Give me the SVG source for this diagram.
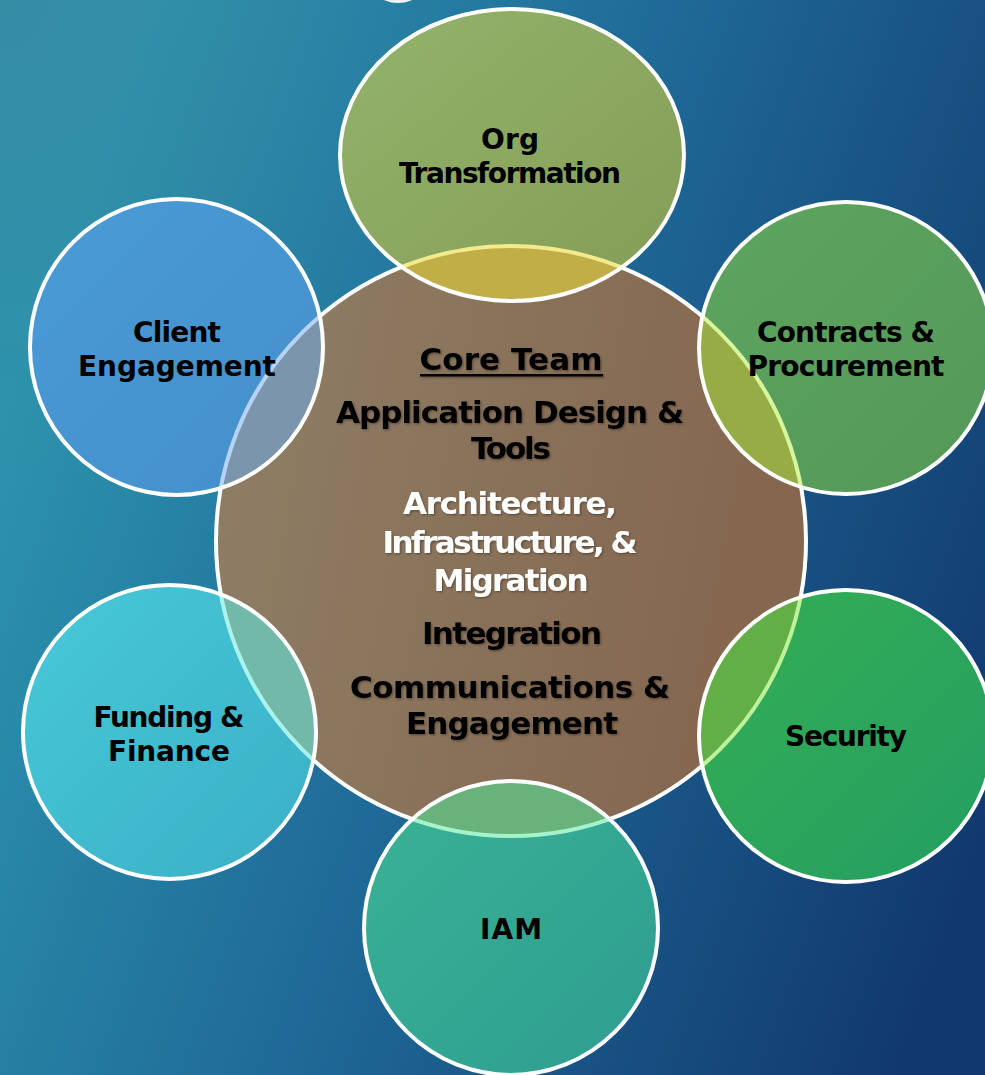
<svg xmlns="http://www.w3.org/2000/svg" width="985" height="1075" viewBox="0 0 985 1075">
<defs>
<linearGradient id="bg" x1="0" y1="0.4" x2="1" y2="0.8">
<stop offset="0" stop-color="#2c93ad"/>
<stop offset="0.45" stop-color="#1f6a98"/>
<stop offset="1" stop-color="#11386e"/>
</linearGradient>
<radialGradient id="bgTL" cx="0" cy="0" r="0.45">
<stop offset="0" stop-color="#4a7e90" stop-opacity="0.3"/>
<stop offset="1" stop-color="#4a7e90" stop-opacity="0"/>
</radialGradient>
<linearGradient id="gCore" x1="0" y1="0" x2="1" y2="0.2">
<stop offset="0" stop-color="#8e7f66"/>
<stop offset="1" stop-color="#85664f"/>
</linearGradient>
<linearGradient id="gOrg" x1="0" y1="0" x2="1" y2="1">
<stop offset="0" stop-color="#93b36b"/>
<stop offset="1" stop-color="#849c56"/>
</linearGradient>
<linearGradient id="gClient" x1="0" y1="0" x2="1" y2="1">
<stop offset="0" stop-color="#4a9bd6"/>
<stop offset="1" stop-color="#448fca"/>
</linearGradient>
<linearGradient id="gContracts" x1="0" y1="0" x2="1" y2="1">
<stop offset="0" stop-color="#5ea55e"/>
<stop offset="1" stop-color="#549859"/>
</linearGradient>
<linearGradient id="gSecurity" x1="0" y1="0" x2="1" y2="1">
<stop offset="0" stop-color="#35ae54"/>
<stop offset="1" stop-color="#249e62"/>
</linearGradient>
<linearGradient id="gFunding" x1="0" y1="0" x2="1" y2="1">
<stop offset="0" stop-color="#47c9d8"/>
<stop offset="1" stop-color="#3aafc6"/>
</linearGradient>
<linearGradient id="gIAM" x1="0" y1="0" x2="1" y2="1">
<stop offset="0" stop-color="#3ab296"/>
<stop offset="1" stop-color="#2e9d90"/>
</linearGradient>
<clipPath id="cCore"><circle cx="511" cy="541" r="295"/></clipPath>
<clipPath id="cOrg"><ellipse cx="512" cy="155" rx="172" ry="146"/></clipPath>
<clipPath id="cClient"><ellipse cx="176.5" cy="347" rx="146.5" ry="148"/></clipPath>
<clipPath id="cContracts"><ellipse cx="846" cy="348" rx="147" ry="146"/></clipPath>
<clipPath id="cSecurity"><ellipse cx="846" cy="736" rx="147" ry="146"/></clipPath>
<clipPath id="cFunding"><ellipse cx="169.5" cy="732" rx="146.5" ry="147"/></clipPath>
<clipPath id="cIAM"><ellipse cx="511" cy="928" rx="147" ry="147"/></clipPath>
<filter id="sh" x="-10%" y="-10%" width="120%" height="130%">
<feDropShadow dx="1.2" dy="1.2" stdDeviation="0.8" flood-color="#000" flood-opacity="0.35"/>
</filter>
</defs>
<style>
.ring{fill:none;stroke:#fff;stroke-width:4}
.edge{fill:none;stroke-width:4}
.t{font-family:"DejaVu Sans","Liberation Sans",sans-serif;font-weight:bold;text-anchor:middle;fill:#000}
.s{font-size:28px}
.c{font-size:31px}
.w{fill:#fff}
</style>
<rect x="0" y="0" width="985" height="1075" fill="url(#bg)"/>
<rect x="0" y="0" width="985" height="1075" fill="url(#bgTL)"/>
<circle cx="398" cy="-31" r="34" fill="#eef2f4"/>

<g id="connectors"></g>

<g id="core">
<circle cx="511" cy="541" r="295" fill="url(#gCore)" stroke="#fff" stroke-width="4"/>
<g filter="url(#sh)">
<text class="t" x="511" y="370" font-size="31" textLength="183" lengthAdjust="spacing">Core Team</text>
<rect x="420" y="374" width="183" height="2.5" fill="#000"/>
<text class="t c" x="510" y="423" textLength="348" lengthAdjust="spacing">Application Design &amp;</text>
<text class="t c" x="511" y="459" textLength="80" lengthAdjust="spacing">Tools</text>
<text class="t c w" x="510" y="514" textLength="214" lengthAdjust="spacing">Architecture,</text>
<text class="t c w" x="510" y="553" textLength="255" lengthAdjust="spacing">Infrastructure, &amp;</text>
<text class="t c w" x="511" y="591" textLength="155" lengthAdjust="spacing">Migration</text>
<text class="t c" x="512" y="644" textLength="180" lengthAdjust="spacing">Integration</text>
<text class="t c" x="510" y="698" textLength="320" lengthAdjust="spacing">Communications &amp;</text>
<text class="t c" x="512" y="734" textLength="212" lengthAdjust="spacing">Engagement</text>
</g>
</g>

<g id="org">
<ellipse cx="512" cy="155" rx="172" ry="146" fill="url(#gOrg)"/>
<ellipse cx="512" cy="155" rx="172" ry="146" fill="#c2ae46" clip-path="url(#cCore)"/>
<circle cx="511" cy="541" r="295" class="edge" stroke="#f2ea8c" clip-path="url(#cOrg)"/>
<ellipse cx="512" cy="155" rx="172" ry="146" class="ring"/>
<text class="t s" x="510" y="149" textLength="58" lengthAdjust="spacing">Org</text>
<text class="t s" x="510" y="183" textLength="222" lengthAdjust="spacing">Transformation</text>
</g>

<g id="client">
<ellipse cx="176.5" cy="347" rx="146.5" ry="148" fill="url(#gClient)"/>
<ellipse cx="176.5" cy="347" rx="146.5" ry="148" fill="#7b95ad" clip-path="url(#cCore)"/>
<circle cx="511" cy="541" r="295" class="edge" stroke="#b6d3f6" clip-path="url(#cClient)"/>
<ellipse cx="176.5" cy="347" rx="146.5" ry="148" class="ring"/>
<text class="t s" x="177" y="342" textLength="88" lengthAdjust="spacing">Client</text>
<text class="t s" x="177" y="376" textLength="198" lengthAdjust="spacing">Engagement</text>
</g>

<g id="contracts">
<ellipse cx="846" cy="348" rx="147" ry="146" fill="url(#gContracts)"/>
<ellipse cx="846" cy="348" rx="147" ry="146" fill="#96ad45" clip-path="url(#cCore)"/>
<circle cx="511" cy="541" r="295" class="edge" stroke="#d6f59c" clip-path="url(#cContracts)"/>
<ellipse cx="846" cy="348" rx="147" ry="146" class="ring"/>
<text class="t s" x="846" y="342" textLength="178" lengthAdjust="spacing">Contracts &amp;</text>
<text class="t s" x="846" y="376" textLength="197" lengthAdjust="spacing">Procurement</text>
</g>

<g id="security">
<ellipse cx="846" cy="736" rx="147" ry="146" fill="url(#gSecurity)"/>
<ellipse cx="846" cy="736" rx="147" ry="146" fill="#62af48" clip-path="url(#cCore)"/>
<circle cx="511" cy="541" r="295" class="edge" stroke="#bdf29a" clip-path="url(#cSecurity)"/>
<ellipse cx="846" cy="736" rx="147" ry="146" class="ring"/>
<text class="t s" x="846" y="746" textLength="122" lengthAdjust="spacing">Security</text>
</g>

<g id="funding">
<ellipse cx="169.5" cy="732" rx="146.5" ry="147" fill="url(#gFunding)"/>
<ellipse cx="169.5" cy="732" rx="146.5" ry="147" fill="#72b9aa" clip-path="url(#cCore)"/>
<circle cx="511" cy="541" r="295" class="edge" stroke="#aaf2ee" clip-path="url(#cFunding)"/>
<ellipse cx="169.5" cy="732" rx="146.5" ry="147" class="ring"/>
<text class="t s" x="169" y="727" textLength="151" lengthAdjust="spacing">Funding &amp;</text>
<text class="t s" x="169" y="761" textLength="122" lengthAdjust="spacing">Finance</text>
</g>

<g id="iam">
<ellipse cx="511" cy="928" rx="147" ry="147" fill="url(#gIAM)"/>
<ellipse cx="511" cy="928" rx="147" ry="147" fill="#68b37b" clip-path="url(#cCore)"/>
<circle cx="511" cy="541" r="295" class="edge" stroke="#a6f2c9" clip-path="url(#cIAM)"/>
<ellipse cx="511" cy="928" rx="147" ry="147" class="ring"/>
<text class="t s" x="511" y="939" textLength="62" lengthAdjust="spacing">IAM</text>
</g>
</svg>
